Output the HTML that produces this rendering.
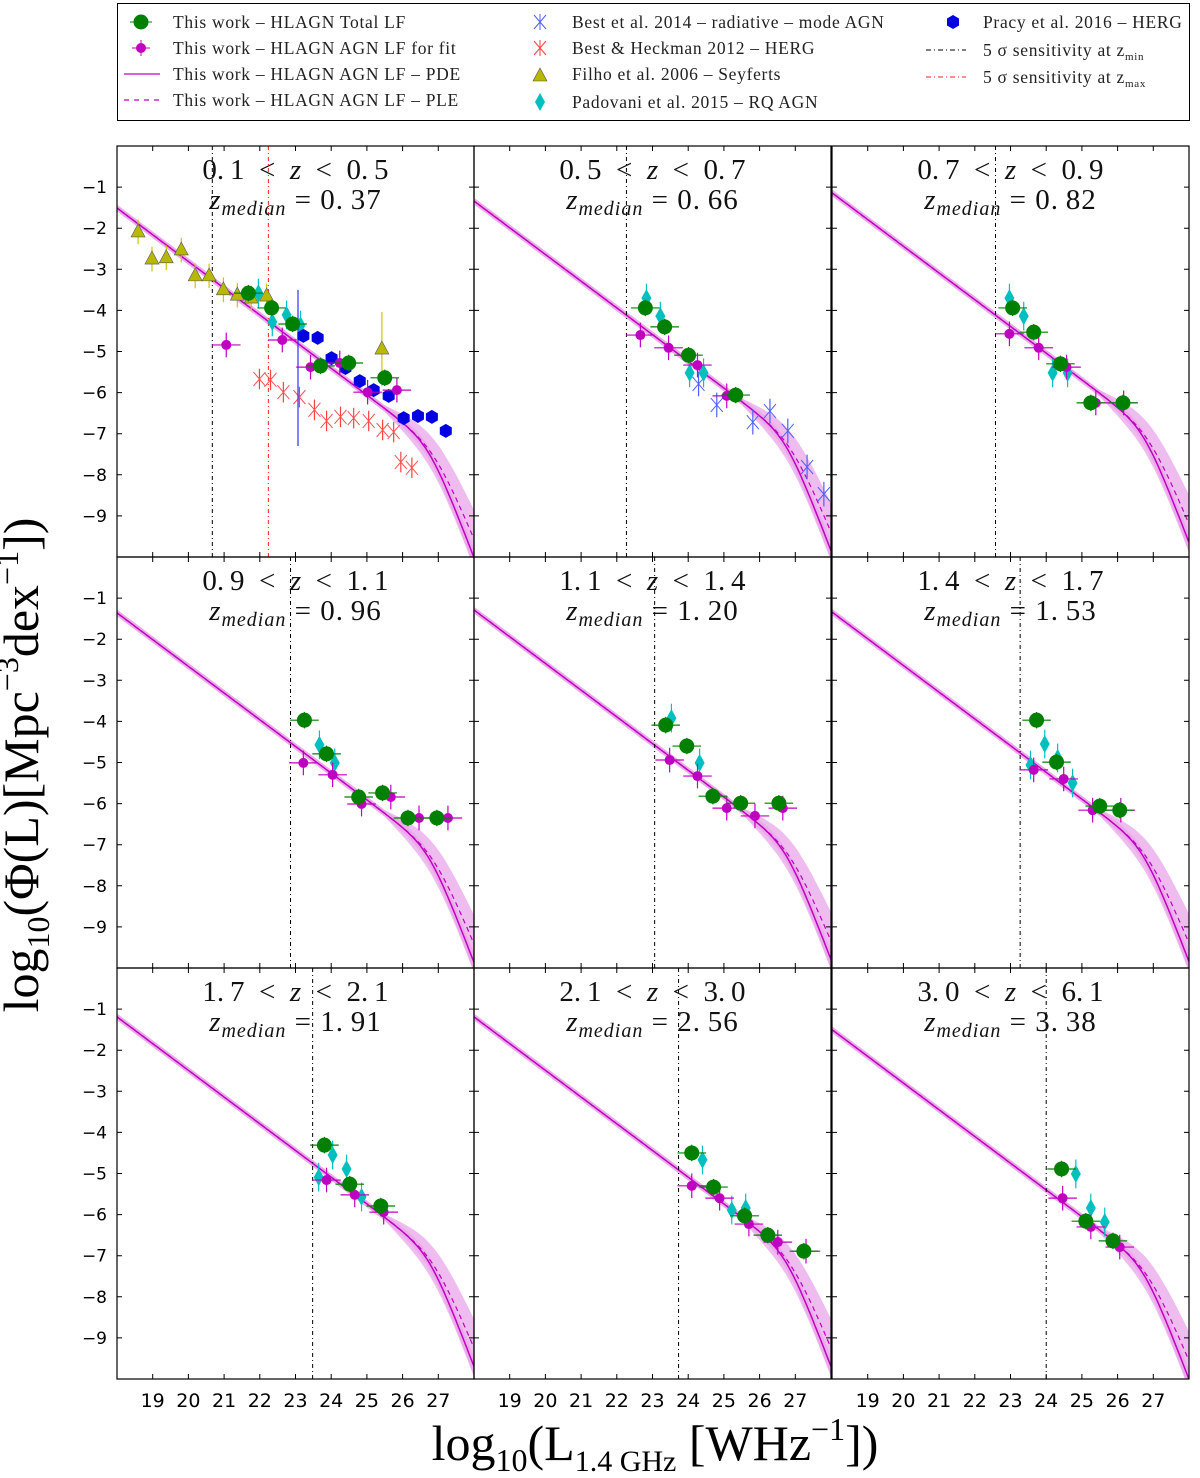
<!DOCTYPE html>
<html><head><meta charset="utf-8"><style>
body{margin:0;background:#fff}
svg{display:block}
.ser{font-family:"Liberation Serif","DejaVu Serif",serif}
.san{font-family:"DejaVu Sans","Liberation Sans",sans-serif}
.leg text{letter-spacing:0.7px}
</style></head><body>
<svg id="fig" width="1200" height="1478" viewBox="0 0 1200 1478" xmlns="http://www.w3.org/2000/svg">
<g id="legend">
<rect x="117.5" y="3.5" width="1072" height="117" fill="#fff" stroke="#000" stroke-width="1"/>
<g class="ser leg" font-size="17.5" fill="#222">
<g><line x1="130" y1="22" x2="152" y2="22" stroke="#008000"/><circle cx="141" cy="22" r="7.5" fill="#008000"/><text x="173" y="28">This work  – HLAGN Total LF</text></g>
<g><line x1="132" y1="48" x2="150" y2="48" stroke="#c000c0"/><line x1="141" y1="40" x2="141" y2="56" stroke="#c000c0"/><circle cx="141" cy="48" r="5" fill="#c000c0"/><text x="173" y="54">This work  – HLAGN AGN LF for fit</text></g>
<g><line x1="124" y1="74" x2="160" y2="74" stroke="#c000c0" stroke-width="1.2"/><text x="173" y="80">This work  – HLAGN AGN LF  – PDE</text></g>
<g><line x1="124" y1="100" x2="160" y2="100" stroke="#c000c0" stroke-width="1.2" stroke-dasharray="5,5"/><text x="173" y="106">This work  – HLAGN AGN LF  – PLE</text></g>
<g><path d="M534 15 L546 29 M546 15 L534 29 M540 14 L540 30" stroke="#5060ff" stroke-width="1"/><text x="572" y="28">Best et al. 2014 – radiative – mode AGN</text></g>
<g><path d="M534 41 L546 55 M546 41 L534 55 M540 40 L540 56" stroke="#ff4040" stroke-width="1"/><text x="572" y="54">Best &amp; Heckman 2012  – HERG</text></g>
<g><path d="M540 68 L547 81 L533 81 Z" fill="#b8b800" stroke="#555" stroke-width="0.6"/><text x="572" y="80">Filho et al. 2006 – Seyferts</text></g>
<g><path d="M540 93 L545 102 L540 111 L535 102 Z" fill="#00bfbf"/><text x="572" y="108">Padovani et al. 2015 – RQ AGN</text></g>
<g><path d="M953 15 L959 18.5 L959 25.5 L953 29 L947 25.5 L947 18.5 Z" fill="#0000e0"/><text x="983" y="28">Pracy et al. 2016 – HERG</text></g>
<g><line x1="926" y1="50" x2="966" y2="50" stroke="#000" stroke-dasharray="5,3,1,3"/><text x="983" y="56">5 σ sensitivity at z<tspan font-size="11" dy="4">min</tspan></text></g>
<g><line x1="926" y1="77" x2="966" y2="77" stroke="#ff2020" stroke-dasharray="5,3,1,3"/><text x="983" y="83">5 σ sensitivity at z<tspan font-size="11" dy="4">max</tspan></text></g>
</g></g>
<g id="panels"></g>
<text class="ser" x="38" y="765" font-size="50" text-anchor="middle" transform="rotate(-90 38 765)">log<tspan font-size="32" dy="11">10</tspan><tspan dy="-11">(Φ(L)[Mpc</tspan><tspan font-size="32" dy="-20">−3</tspan><tspan dy="20">dex</tspan><tspan font-size="32" dy="-20">−1</tspan><tspan dy="20">])</tspan></text>
<text class="ser" x="655" y="1460" font-size="50" text-anchor="middle">log<tspan font-size="32" dy="11">10</tspan><tspan dy="-11">(L</tspan><tspan font-size="30" dy="11">1.4 GHz</tspan><tspan dy="-11"> [WHz</tspan><tspan font-size="32" dy="-20">−1</tspan><tspan dy="20">])</tspan></text>
</svg>
<script>
const NS="http://www.w3.org/2000/svg";
// ---- data ----
const zLow=["0.1","0.5","0.7","0.9","1.1","1.4","1.7","2.1","3.0"];
const zHigh=["0.5","0.7","0.9","1.1","1.4","1.7","2.1","3.0","6.1"];
const zMedian=["0.37","0.66","0.82","0.96","1.20","1.53","1.91","2.56","3.38"];
const lfIntercept=[-1.51,-1.34,-1.14,-1.36,-1.29,-1.34,-1.19,-1.19,-1.5]; // log phi at L=18
const lfSlope=0.65;
const pdeBreak=26.75, pdeSteep=1.6, pleBreak=26.9, pleSteep=1.4;
const zMinLimit=[20.67,22.27,22.58,22.86,23.06,23.27,23.48,23.73,24.0];
const zMaxLimit=[22.24,null,null,null,null,null,null,null,null];
const xTicks=[19,20,21,22,23,24,25,26,27];
const yTicks=[-1,-2,-3,-4,-5,-6,-7,-8,-9];
const totalL=[[21.68,22.33,22.92,23.70,24.49,25.5],[22.80,23.34,24.01,25.33],[23.06,23.65,24.40,25.25,26.15],[23.25,23.87,24.77,25.44,26.15,26.96],[23.37,23.96,24.69,25.47,26.54],[23.73,24.29,25.5,26.06],[23.81,24.52,25.39],[24.10,24.71,25.58,26.23,27.24],[24.43,25.11,25.87]];
const totalPhi=[[-3.58,-3.94,-4.33,-5.35,-5.28,-5.64],[-3.94,-4.40,-5.09,-6.06],[-3.94,-4.53,-5.30,-6.25,-6.25],[-3.97,-4.79,-5.84,-5.74,-6.35,-6.35],[-4.09,-4.60,-5.82,-5.99,-5.99],[-3.97,-4.99,-6.06,-6.16],[-4.31,-5.26,-5.79],[-4.50,-5.33,-6.03,-6.50,-6.89],[-4.89,-6.16,-6.64]];
const agnL=[[21.06,22.63,23.42,24.24,25.02,25.84],[22.66,23.45,24.26,25.08],[22.97,23.79,24.57,25.39,26.17],[23.22,24.04,24.85,25.67,26.46,27.27],[23.48,24.26,25.08,25.87,26.65],[23.65,24.49,25.30,26.09],[23.87,24.66,25.47],[24.10,24.88,25.70,26.51,27.30],[24.46,25.25,26.06]];
const agnPhi=[[-4.84,-4.72,-5.38,-5.28,-5.99,-5.94],[-4.6,-4.91,-5.33,-6.08],[-4.57,-4.91,-5.38,-6.25,-6.25],[-5.01,-5.30,-6.01,-5.84,-6.35,-6.35],[-4.94,-5.33,-6.11,-6.30,-6.11],[-5.18,-5.40,-6.16,-6.16],[-5.16,-5.52,-5.94],[-5.30,-5.60,-6.23,-6.67,-6.89],[-5.60,-6.30,-6.79]];
const padL=[[21.96,22.35,22.75,23.14],[22.83,23.22,24.04,24.43],[22.97,23.37,24.18,24.60],[23.67,24.10],[23.53,24.32],[23.56,23.96,24.32,24.74],[23.65,24.04,24.43,24.85],[24.40,25.22,25.61],[24.83,25.25,25.64]];
const padPhi=[[-3.58,-4.28,-4.11,-4.36],[-3.70,-4.14,-5.52,-5.52],[-3.70,-4.14,-5.52,-5.52],[-4.57,-5.01],[-3.92,-5.01],[-5.06,-4.55,-4.89,-5.50],[-5.09,-4.55,-4.89,-5.57],[-4.67,-5.89,-5.84],[-5.01,-5.84,-6.18]];
const filhoL=[18.59,18.98,19.38,19.80,20.19,20.58,20.98,21.37,21.76,22.19,25.42];
const filhoPhi=[-2.09,-2.75,-2.72,-2.53,-3.16,-3.16,-3.5,-3.63,-3.70,-3.65,-4.94];
const pracyL=[23.22,23.62,24.01,24.40,24.80,25.19,25.61,26.03,26.43,26.82,27.21];
const pracyPhi=[-4.62,-4.67,-5.16,-5.40,-5.72,-5.94,-6.08,-6.62,-6.57,-6.59,-6.93];
const bhL=[21.99,22.3,22.66,23.11,23.53,23.87,24.26,24.63,25.05,25.44,25.75,25.95,26.26];
const bhPhi=[-5.67,-5.69,-5.99,-6.11,-6.42,-6.69,-6.59,-6.62,-6.69,-6.91,-6.96,-7.69,-7.83];
const best14L=[24.29,24.80,25.81,26.29,26.79,27.33,27.80];
const best14Phi=[-5.79,-6.30,-6.72,-6.45,-6.93,-7.81,-8.47];
// ---- layout ----
const colX=[117,474,832], rowY=[146,557,968], PW=357, PH=411;
const panelsG=document.getElementById('panels');
function mk(tag,attrs,parent){const e=document.createElementNS(NS,tag);for(const k in attrs)e.setAttribute(k,attrs[k]);parent.appendChild(e);return e;}
function lf(i,L,brk,st){return lfIntercept[i]-lfSlope*(L-18)-Math.log10(1+Math.pow(10,st*(L-brk)));}
const SP='\u00a0\u00a0';
for(let i=0;i<9;i++){
  const x0=colX[i%3], y0=rowY[Math.floor(i/3)];
  const sx=L=>x0+(L-18)/10*PW, sy=p=>y0+(-p)/10*PH;
  const g=mk('g',{},panelsG);
  
  
  const cid='clip'+i;
  const cp=mk('clipPath',{id:cid},g);mk('rect',{x:x0,y:y0,width:PW,height:PH},cp);
  const pg=mk('g',{'clip-path':'url(#'+cid+')'},g);
  const bandPts=(brk,st,w)=>{let up=[],dn=[];for(let L=18;L<=28.01;L+=0.1){const v=lf(i,L,brk,st);const ww=w(L);up.push(sx(L).toFixed(1)+','+sy(v+ww).toFixed(1));dn.unshift(sx(L).toFixed(1)+','+sy(v-ww).toFixed(1));}return up.concat(dn).join(' ');};
  const b1=mk('polygon',{points:bandPts(pleBreak,pleSteep,L=>0.08+0.25*Math.max(0,L-25.5)),fill:'#e9a6e9','fill-opacity':0.75},pg);
  
  
  const b2=mk('polygon',{points:bandPts(pdeBreak,pdeSteep,L=>0.08+0.06*Math.max(0,L-25.5)),fill:'#e9a6e9','fill-opacity':0.75},pg);
  
  
  const linePts=(brk,st)=>{let a=[];for(let L=18;L<=28.01;L+=0.05)a.push(sx(L).toFixed(1)+','+sy(lf(i,L,brk,st)).toFixed(1));return a.join(' ');};
  const ple=mk('polyline',{points:linePts(pleBreak,pleSteep),fill:'none',stroke:'#c000c0','stroke-width':1.2,'stroke-dasharray':'5,4'},pg);
  
  
  const pde=mk('polyline',{points:linePts(pdeBreak,pdeSteep),fill:'none',stroke:'#c000c0','stroke-width':1.5},pg);
  
  
  const vl=mk('line',{x1:sx(zMinLimit[i]),x2:sx(zMinLimit[i]),y1:y0,y2:y0+PH,stroke:'#000','stroke-dasharray':'4,3,1,3','stroke-width':1},pg);
  
  
  if(zMaxLimit[i]!==null){const vr=mk('line',{x1:sx(zMaxLimit[i]),x2:sx(zMaxLimit[i]),y1:y0,y2:y0+PH,stroke:'#ff2020','stroke-dasharray':'4,3,1,3','stroke-width':1},pg);
    
    }
  const eb=(L,p,c,xe,ye)=>{const e=mk('path',{d:`M${sx(L-xe)} ${sy(p)}H${sx(L+xe)}M${sx(L)} ${sy(p+ye)}V${sy(p-ye)}`,stroke:c,'stroke-width':1.2,fill:'none'},pg);};
  if(i===0){
    filhoL.forEach((L,k)=>{eb(L,filhoPhi[k],'#c8c800',0,k===10?0.9:0.3);const s=mk('path',{d:`M${sx(L)} ${sy(filhoPhi[k])-8} l7 13 h-14 Z`,fill:'#b8b800',stroke:'#555','stroke-width':0.6},pg);
      
      });
    bhL.forEach((L,k)=>{eb(L,bhPhi[k],'#ff4040',0,0.25);const x=sx(L),y=sy(bhPhi[k]);const s=mk('path',{d:`M${x-6} ${y-7}L${x+6} ${y+7}M${x+6} ${y-7}L${x-6} ${y+7}`,stroke:'#ff5050','stroke-width':1},pg);
      
      });
  }
  if(i===1){
    best14L.forEach((L,k)=>{eb(L,best14Phi[k],'#5060ff',0,0.3);const x=sx(L),y=sy(best14Phi[k]);const s=mk('path',{d:`M${x-6} ${y-7}L${x+6} ${y+7}M${x+6} ${y-7}L${x-6} ${y+7}`,stroke:'#5060ff','stroke-width':1},pg);
      
      });
  }
  padL[i].forEach((L,k)=>{eb(L,padPhi[i][k],'#00bfbf',0,0.35);const x=sx(L),y=sy(padPhi[i][k]);const s=mk('path',{d:`M${x} ${y-9}L${x+5} ${y}L${x} ${y+9}L${x-5} ${y}Z`,fill:'#00bfbf'},pg);
    
    });
  if(i===0){
    eb(pracyL[0]-0.15,-5.4,'#3030ff',0,1.9);
    pracyL.forEach((L,k)=>{const x=sx(L),y=sy(pracyPhi[k]);const s=mk('path',{d:`M${x} ${y-7}L${x+6} ${y-3.5}L${x+6} ${y+3.5}L${x} ${y+7}L${x-6} ${y+3.5}L${x-6} ${y-3.5}Z`,fill:'#0000e0'},pg);
      
      });
  }
  agnL[i].forEach((L,k)=>{eb(L,agnPhi[i][k],'#c000c0',0.4,0.3);const s=mk('circle',{cx:sx(L),cy:sy(agnPhi[i][k]),r:5,fill:'#c000c0'},pg);
    
    });
  totalL[i].forEach((L,k)=>{eb(L,totalPhi[i][k],'#008000',0.4,0.2);const s=mk('circle',{cx:sx(L),cy:sy(totalPhi[i][k]),r:7.5,fill:'#008000'},pg);
    
    });
  const fr=mk('rect',{x:x0,y:y0,width:PW,height:PH,fill:'none',stroke:'#000','stroke-width':1.2},g);
  
  
  let d='';
  xTicks.forEach(t=>{const x=sx(t);d+=`M${x} ${y0+PH}v-5M${x} ${y0}v5`;});
  yTicks.forEach(t=>{const y=sy(t);d+=`M${x0} ${y}h5M${x0+PW} ${y}h-5`;});
  mk('path',{d:d,stroke:'#000','stroke-width':1},g);
  if(i%3===0){yTicks.forEach(t=>{const tx=mk('text',{x:x0-10,y:sy(t)+6,'text-anchor':'end','font-size':17,class:'san'},g);tx.textContent='−'+(-t);
    
    });}
  if(i>=6){xTicks.forEach(t=>{const tx=mk('text',{x:sx(t),y:y0+PH+28,'text-anchor':'middle','font-size':19,class:'san'},g);tx.textContent=t;
    
    });}
  const cx=x0+PW/2;
  const t1=mk('text',{x:cx,y:y0+33,'text-anchor':'middle','font-size':29,class:'ser',fill:'#111'},g);
  t1.textContent=zLow[i].replace('.','.\u2009')+SP+'<'+SP;
  const zi=mk('tspan',{'font-style':'italic'},t1);zi.textContent='z';
  const t1b=mk('tspan',{},t1);t1b.textContent=SP+'<'+SP+zHigh[i].replace('.','.\u2009');
  
  
  const t2=mk('text',{x:cx,y:y0+63,'text-anchor':'middle','font-size':29,class:'ser',fill:'#111','letter-spacing':'1'},g);
  const a=mk('tspan',{'font-style':'italic'},t2);a.textContent='z';
  const b=mk('tspan',{'font-style':'italic','font-size':20,dy:6},t2);b.textContent='median';
  const c=mk('tspan',{dy:-6},t2);c.textContent='\u00a0=\u00a0'+zMedian[i].replace('.','.\u2009');
  
  
}
</script>
</body></html>
